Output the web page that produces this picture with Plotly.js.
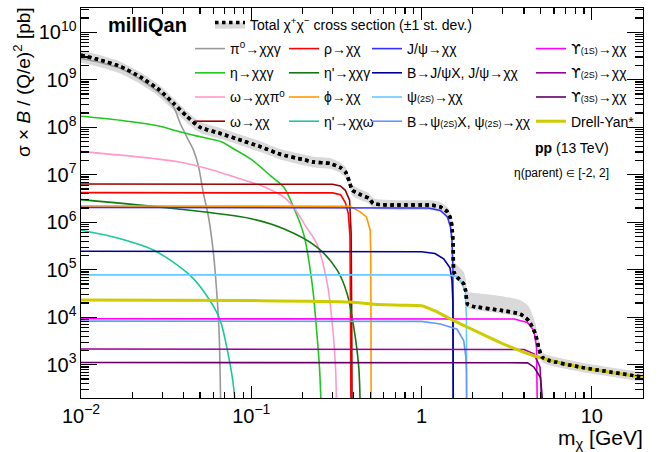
<!DOCTYPE html>
<html>
<head>
<meta charset="utf-8">
<script src="https://cdn.plot.ly/plotly-3.0.1.min.js"></script>
<style>html,body{margin:0;padding:0;background:#fff;}#chart{width:659px;height:452px;}</style>
</head>
<body>
<div id="chart"></div>
<script>
// ---- Total (with +-1 st. dev. band) ----
const totX  = [0.01,0.0129,0.017,0.0222,0.029,0.0349,0.0418,0.05,0.0658,0.086,0.113,0.148,0.2,0.232,0.29,0.335,0.36,0.38,0.392,0.44,0.49,0.52,0.57,0.72,1.13,1.29,1.42,1.48,1.51,1.535,1.55,1.62,1.77,1.82,1.86,2.0,2.92,3.8,4.26,4.66,4.88,5.1,5.5,8.6,20];
const totY  = [3.3e9,2.6e9,1.9e9,1.15e9,6.0e8,3.2e8,1.7e8,1.0e8,7.4e7,5.4e7,3.9e7,2.7e7,2.1e7,1.86e7,1.73e7,1.4e7,1.1e7,6.5e6,4.7e6,3.8e6,3.2e6,2.5e6,2.35e6,2.3e6,2.3e6,2.1e6,1.66e6,1.2e6,8e5,3e5,9e4,7e4,5e4,3.5e4,1.9e4,1.7e4,1.4e4,1.17e4,8.5e3,4.5e3,2.3e3,1.45e3,1.26e3,890,550];
const totHi = [4.2e9,3.3e9,2.4e9,1.45e9,7.6e8,4.1e8,2.2e8,1.3e8,9.6e7,7.0e7,5.1e7,3.5e7,2.7e7,2.4e7,2.25e7,1.8e7,1.43e7,8.5e6,6.1e6,4.9e6,4.1e6,3.2e6,3.0e6,2.9e6,2.9e6,2.65e6,2.1e6,1.55e6,1.05e6,4.2e5,1.5e5,1.25e5,9e4,6.3e4,3.4e4,3.3e4,2.8e4,2.3e4,1.7e4,7.5e3,3.2e3,1.85e3,1.6e3,1.12e3,690];
const totLo = [2.3e9,1.85e9,1.35e9,8.2e8,4.3e8,2.3e8,1.25e8,7.7e7,5.7e7,4.2e7,3.0e7,2.1e7,1.6e7,1.43e7,1.33e7,1.08e7,8.5e6,5.0e6,3.6e6,2.9e6,2.5e6,1.95e6,1.85e6,1.8e6,1.8e6,1.65e6,1.3e6,9.3e5,6.2e5,2.3e5,7.5e4,6e4,4.2e4,3e4,1.6e4,1.45e4,1.2e4,1.0e4,7.2e3,3.8e3,1.9e3,1.15e3,1.0e3,710,440];

// ---- Components ----
const pi0X = [0.01,0.013,0.017,0.022,0.029,0.0349,0.0383,0.0418,0.0458,0.049,0.0524,0.0561,0.060,0.0628,0.0648,0.0662];
const pi0Y = [2.8e9,2.3e9,1.74e9,1.05e9,5.2e8,2.7e8,1.2e8,6.3e7,3.3e7,1.5e7,4e6,1.29e6,2.2e5,3.1e4,4.5e3,100];
const etaX = [0.01,0.017,0.029,0.038,0.05,0.066,0.08,0.1,0.13,0.155,0.177,0.203,0.228,0.243,0.252,0.258];
const etaY = [1.7e8,1.4e8,1.05e8,8e7,6.3e7,5e7,3.4e7,2.1e7,9.5e6,5.5e6,2.1e6,5.7e5,5e4,4.5e3,800,100];
const omPiX = [0.01,0.0265,0.038,0.055,0.0986,0.113,0.155,0.177,0.21,0.243,0.28,0.303,0.313,0.317];
const omPiY = [3.1e7,2.2e7,1.85e7,1.35e7,7e6,6e6,3.4e6,2.1e6,8e5,3.5e5,5e4,4.5e3,800,100];
const omX = [0.01,0.3,0.334,0.357,0.378,0.386,0.389,0.391];
const omY = [6.4e6,6.3e6,5.8e6,4.7e6,2.9e6,6e5,1e4,100];
const rhoX = [0.01,0.3,0.335,0.357,0.372,0.38,0.383,0.385];
const rhoY = [4.2e6,4.15e6,3.8e6,2.6e6,1.5e6,5e5,1e4,100];
const etapGX = [0.01,0.0349,0.0986,0.155,0.243,0.32,0.366,0.40,0.428,0.437];
const etapGY = [3e6,1.95e6,1.2e6,7.3e5,3e5,9.8e4,3.1e4,6.2e3,890,100];
const phiX = [0.01,0.38,0.4365,0.475,0.5,0.503,0.505,0.506];
const phiY = [2.2e6,2.18e6,1.66e6,1.29e6,6.8e5,2.6e5,1e4,100];
const etapOX = [0.01,0.0155,0.0266,0.0438,0.0574,0.0658,0.0719,0.0768,0.0795,0.081];
const etapOY = [6.8e5,4.9e5,2.6e5,7.6e4,2.2e4,8.5e3,2.3e3,650,250,100];
const jpsiX = [0.01,1.1,1.29,1.42,1.48,1.51,1.53,1.535,1.537];
const jpsiY = [2.05e6,2.0e6,1.78e6,1.29e6,7.9e5,4.2e5,1e5,1e4,100];
const bJpsiX = [0.01,1.0,1.2,1.35,1.47,1.51,1.53,1.535,1.537];
const bJpsiY = [2.45e5,2.4e5,2.2e5,1.7e5,1.1e5,6e4,2e4,2e3,100];
const psi2X = [0.01,1.4,1.6,1.69,1.81,1.835,1.84,1.842];
const psi2Y = [7.8e4,7.8e4,7.3e4,5.9e4,3.6e4,1e4,1e3,100];
const bPsi2X = [0.01,1.0,1.29,1.62,1.77,1.82,1.835,1.84,1.842];
const bPsi2Y = [8.3e3,8.2e3,7.2e3,5.6e3,3.2e3,1.5e3,800,300,100];
const ups1X = [0.01,3.5,4.19,4.58,4.74,4.78,4.79];
const ups1Y = [9.3e3,9.2e3,7.8e3,5.2e3,2.3e3,500,100];
const ups2X = [0.01,4.0,4.58,4.97,5.04,5.06];
const ups2Y = [2.15e3,2.1e3,1.7e3,890,300,100];
const ups3X = [0.01,4.2,4.58,5.0,5.12,5.14];
const ups3Y = [1.12e3,1.1e3,890,540,200,100];
const dyX = [0.01,0.1,0.38,0.56,0.75,1.0,1.18,1.55,1.86,2.92,4.58,8.6,20];
const dyY = [2.3e4,2.25e4,2.1e4,1.85e4,1.8e4,1.75e4,1.4e4,8.5e3,6.2e3,2.9e3,1.55e3,890,550];

// ---- Legend labels ----
const sm = s => '<span style="font-size:9px">' + s + '</span>';
const UPS = '<span style="font-family:\'DejaVu Sans\'">ϒ</span>';
const labTotal = 'Total χ<sup>+</sup>χ<sup>−</sup> cross section (±1 st. dev.)';
const labels = {
  pi0: 'π<sup>0</sup>→χχγ', eta: 'η→χχγ', omPi: 'ω→χχπ<sup>0</sup>', om: 'ω→χχ',
  rho: 'ρ→χχ', etapG: "η'→χχγ", phi: 'ϕ→χχ', etapO: "η'→χχω",
  jpsi: 'J/ψ→χχ', bJpsi: 'B→J/ψX, J/ψ→χχ', psi2: 'ψ' + sm('(2S)') + '→χχ',
  bPsi2: 'B→ψ' + sm('(2S)') + 'X, ψ' + sm('(2S)') + '→χχ',
  ups1: UPS + sm('(1S)') + '→χχ', ups2: UPS + sm('(2S)') + '→χχ', ups3: UPS + sm('(3S)') + '→χχ',
  dy: 'Drell-Yan*'
};

// ---- geometry helpers (pixel -> paper) ----
const W = 659, H = 452, ML = 81, MR = 16, MT = 8, MB = 54;
const PW = W - ML - MR, PH = H - MT - MB;
const px = p => (p - ML) / PW;
const py = p => 1 - (p - MT) / PH;

const FONT = 'Liberation Sans, Arial, Helvetica, sans-serif';
const LEGFONT = {family: FONT, size: 14, color: '#000'};

function comp(x, y, name, color, legend, grp, opts) {
  opts = opts || {};
  const line = {color: color, width: opts.width || 1.6};
  if (opts.spline) { line.shape = 'spline'; line.smoothing = opts.spline; }
  return {x: x, y: y, type: 'scatter', mode: 'lines', name: name,
    line: line, legend: legend, legendgroup: grp, hoverinfo: 'skip'};
}

const traces = [
  {x: totX, y: totLo, type: 'scatter', mode: 'lines', line: {width: 0, color: 'rgba(0,0,0,0)', shape: 'spline', smoothing: 0.5},
   showlegend: false, hoverinfo: 'skip', legend: 'legend'},
  {x: totX, y: totY, type: 'scatter', mode: 'lines', name: labTotal, fill: 'tonexty',
   fillcolor: '#d9d9d9', line: {color: '#000', width: 3.5, dash: 'dot', shape: 'spline', smoothing: 0.5}, legend: 'legend',
   legendgroup: 'tot', hoverinfo: 'skip'},
  {x: totX, y: totHi, type: 'scatter', mode: 'lines', fill: 'tonexty', fillcolor: '#d9d9d9',
   line: {width: 0, color: 'rgba(0,0,0,0)', shape: 'spline', smoothing: 0.5}, showlegend: false, hoverinfo: 'skip', legend: 'legend'},

  comp(pi0X, pi0Y, labels.pi0, '#999999', 'legend2', 'a1', {spline: 0.8}),
  comp(etaX, etaY, labels.eta, '#1ec81e', 'legend2', 'a2', {spline: 0.9}),
  comp(omPiX, omPiY, labels.omPi, '#ff99cc', 'legend2', 'a3', {spline: 0.9}),
  comp(omX, omY, labels.om, '#990000', 'legend2', 'a4'),

  comp(rhoX, rhoY, labels.rho, '#ff0000', 'legend3', 'b1'),
  comp(etapGX, etapGY, labels.etapG, '#117a11', 'legend3', 'b2', {spline: 0.9}),
  comp(phiX, phiY, labels.phi, '#ff9900', 'legend3', 'b3'),
  comp(etapOX, etapOY, labels.etapO, '#19c99c', 'legend3', 'b4', {spline: 0.9}),

  comp(jpsiX, jpsiY, labels.jpsi, '#3333ff', 'legend4', 'c1'),
  comp(bJpsiX, bJpsiY, labels.bJpsi, '#000099', 'legend4', 'c2'),
  comp(psi2X, psi2Y, labels.psi2, '#66ccff', 'legend4', 'c3'),
  comp(bPsi2X, bPsi2Y, labels.bPsi2, '#6699ff', 'legend4', 'c4'),

  comp(ups1X, ups1Y, labels.ups1, '#ff00ff', 'legend5', 'd1'),
  comp(ups2X, ups2Y, labels.ups2, '#990099', 'legend5', 'd2'),
  comp(ups3X, ups3Y, labels.ups3, '#660066', 'legend5', 'd3'),
  comp(dyX, dyY, labels.dy, '#cccc00', 'legend5', 'd4', {width: 3, spline: 0.7}),

  {x: totX, y: totY, type: 'scatter', mode: 'lines', line: {color: '#000', width: 3.5, dash: 'dot', shape: 'spline', smoothing: 0.5},
   showlegend: false, hoverinfo: 'skip', legend: 'legend'}
];

function leg(xpx, ypx) {
  return {x: px(xpx), y: py(ypx), xanchor: 'left', yanchor: 'top', bgcolor: 'rgba(0,0,0,0)',
    borderwidth: 0, font: LEGFONT, traceorder: 'grouped',
    tracegroupgap: 3, itemclick: false, itemdoubleclick: false};
}

const axisCommon = {
  type: 'log', showgrid: false, zeroline: false, showline: true, linecolor: '#000', linewidth: 1.3,
  mirror: 'ticks', ticks: 'inside', tickcolor: '#000', tickwidth: 1.2, dtick: 1,
  exponentformat: 'power', tickfont: {family: FONT, size: 16, color: '#000'}
};

const layout = {
  width: W, height: H,
  margin: {l: ML, r: MR, t: MT, b: MB, pad: 0},
  paper_bgcolor: '#fff', plot_bgcolor: '#fff',
  font: {family: FONT, color: '#000', size: 14},
  xaxis: Object.assign({}, axisCommon, {range: [-2, Math.log10(20)], ticklen: 12,
    minor: {ticks: 'inside', ticklen: 6, tickcolor: '#000', tickwidth: 1.2, dtick: 'D1', showgrid: false}}),
  yaxis: Object.assign({}, axisCommon, {range: [Math.log10(200), 10.51], ticklen: 16,
    minor: {ticks: 'inside', ticklen: 8, tickcolor: '#000', tickwidth: 1.2, dtick: 'D1', showgrid: false}}),
  legend: leg(210, 9),
  legend2: leg(190, 33),
  legend3: leg(284, 33),
  legend4: leg(367, 33),
  legend5: leg(531, 33),
  annotations: [
    {xref: 'paper', yref: 'paper', x: px(106), y: py(25), xanchor: 'left', yanchor: 'middle',
     text: '<b>milliQan</b>', showarrow: false, font: {family: FONT, size: 20, color: '#000'}},
    {xref: 'paper', yref: 'paper', x: px(611), y: py(148), xanchor: 'right', yanchor: 'middle',
     text: '<b>pp</b> (13 TeV)', showarrow: false, font: {family: FONT, size: 14, color: '#000'}},
    {xref: 'paper', yref: 'paper', x: px(611), y: py(173), xanchor: 'right', yanchor: 'middle',
     text: 'η(parent) <span style="font-size:10px">∈</span> [-2, 2]', showarrow: false, font: {family: FONT, size: 12, color: '#000'}},
    {xref: 'paper', yref: 'paper', x: px(22), y: py(5), xanchor: 'center', yanchor: 'top', textangle: -90,
     text: 'σ × <i>B</i> / (Q/e)<sup>2</sup> [pb]', showarrow: false, font: {family: FONT, size: 19, color: '#000'}},
    {xref: 'paper', yref: 'paper', x: px(645), y: py(439), xanchor: 'right', yanchor: 'middle',
     text: 'm<sub>χ</sub> [GeV]', showarrow: false, font: {family: FONT, size: 21, color: '#000'}}
  ]
};

Plotly.newPlot('chart', traces, layout, {displayModeBar: false, staticPlot: true});
</script>
</body>
</html>
